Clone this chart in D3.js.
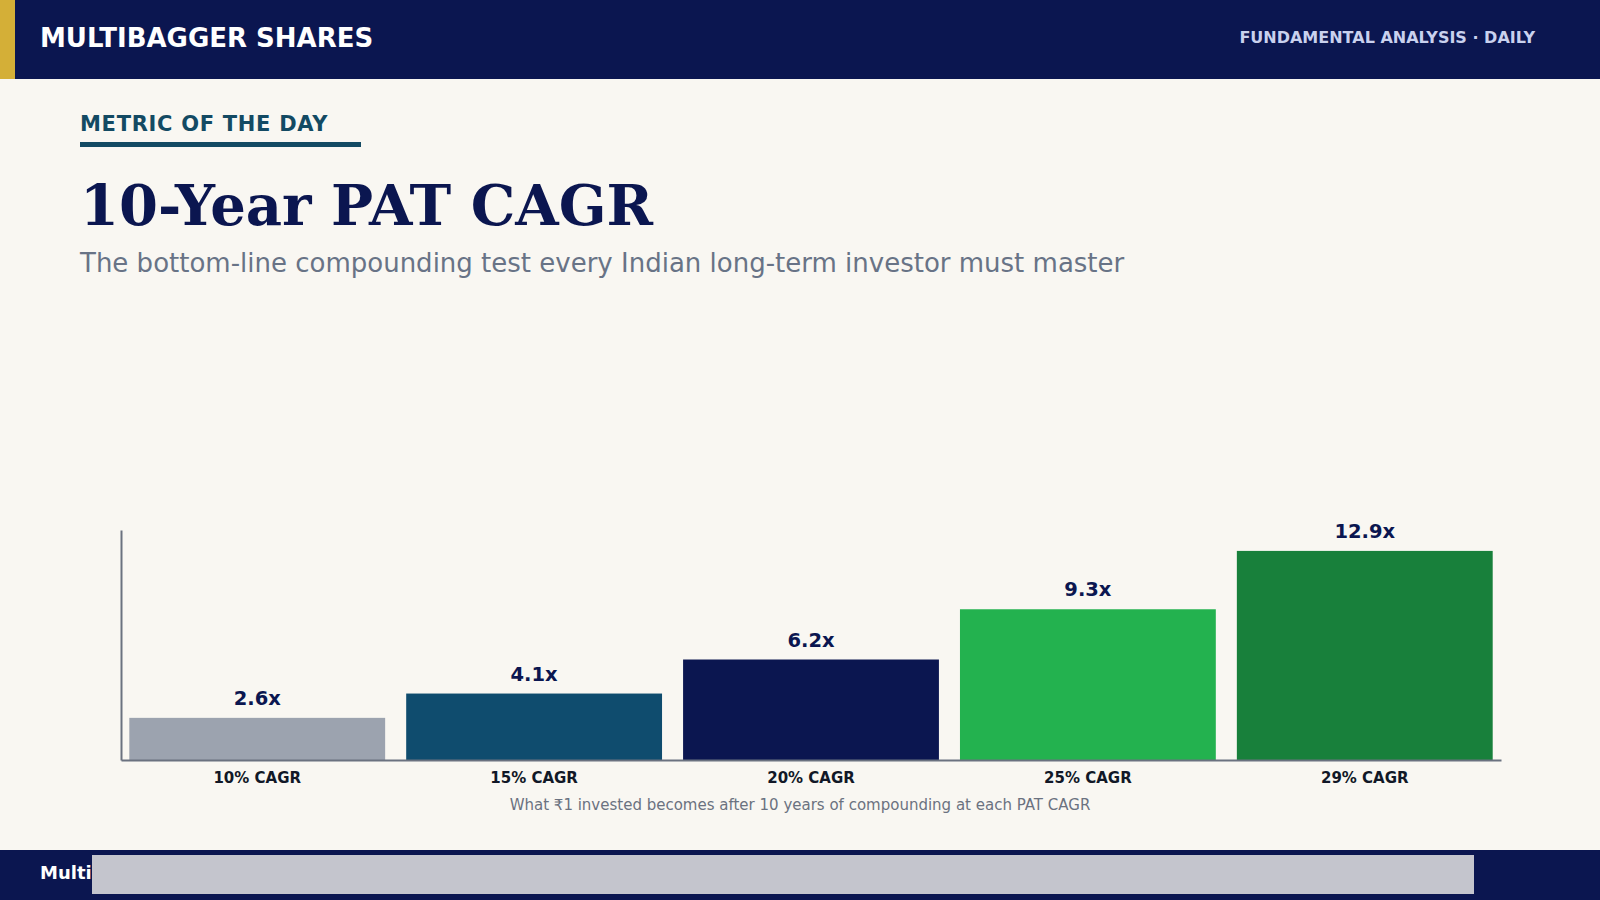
<!DOCTYPE html>
<html>
<head>
<meta charset="utf-8">
<script src="https://cdn.jsdelivr.net/npm/d3@7"></script>
<style>
  html, body { margin: 0; padding: 0; background: #f9f7f2; }
  svg { display: block; font-family: "DejaVu Sans", sans-serif; }
</style>
</head>
<body>
<div id="chart"></div>
<script>
const categories = ["10% CAGR", "15% CAGR", "20% CAGR", "25% CAGR", "29% CAGR"];
const multiples = [2.6, 4.1, 6.2, 9.3, 12.9];
const barColors = ["#9ca3af", "#0f4c6e", "#0b1650", "#23b24f", "#18803b"];

const width = 1600, height = 900;
const navy = "#0b1650";

const svg = d3.select("#chart").append("svg")
  .attr("width", width)
  .attr("height", height);

svg.append("rect").attr("width", width).attr("height", height).attr("fill", "#f9f7f2");

// header band
svg.append("rect").attr("width", width).attr("height", 79).attr("fill", navy);
svg.append("rect").attr("width", 15).attr("height", 79).attr("fill", "#d4af37");
svg.append("text")
  .attr("x", 40).attr("y", 47)
  .attr("fill", "#ffffff")
  .attr("font-size", 26).attr("font-weight", "bold")
  .text("MULTIBAGGER SHARES");
svg.append("text")
  .attr("x", 1535).attr("y", 43)
  .attr("text-anchor", "end")
  .attr("fill", "#c9d1ee")
  .attr("font-size", 16).attr("font-weight", "bold")
  .text("FUNDAMENTAL ANALYSIS · DAILY");

// kicker + titles
svg.append("text")
  .attr("x", 80).attr("y", 131)
  .attr("fill", "#134a63")
  .attr("font-size", 21).attr("font-weight", "bold")
  .attr("letter-spacing", 0.7)
  .text("METRIC OF THE DAY");
svg.append("rect").attr("x", 80).attr("y", 142).attr("width", 281).attr("height", 5).attr("fill", "#134a63");

svg.append("text")
  .attr("x", 80).attr("y", 225)
  .attr("fill", navy)
  .style("font-family", "'DejaVu Serif', serif")
  .attr("font-size", 56).attr("font-weight", "bold")
  .text("10-Year PAT CAGR");
svg.append("text")
  .attr("x", 80).attr("y", 272)
  .attr("fill", "#687386")
  .attr("font-size", 26)
  .text("The bottom-line compounding test every Indian long-term investor must master");

// chart
const margin = { left: 121, right: 99, top: 530, bottom: 140 };
const x = d3.scaleBand()
  .domain(categories)
  .range([margin.left, width - margin.right])
  .paddingInner(0.076)
  .paddingOuter(0.03);
const y = d3.scaleLinear()
  .domain([0, d3.max(multiples) * 1.1])
  .range([height - margin.bottom, margin.top]);

const data = categories.map((c, i) => ({ c, v: multiples[i], color: barColors[i] }));

svg.append("g")
  .selectAll("rect")
  .data(data)
  .join("rect")
  .attr("x", d => x(d.c))
  .attr("y", d => y(d.v))
  .attr("width", x.bandwidth())
  .attr("height", d => y(0) - y(d.v))
  .attr("fill", d => d.color);

svg.append("g")
  .selectAll("text")
  .data(data)
  .join("text")
  .attr("x", d => x(d.c) + x.bandwidth() / 2)
  .attr("y", d => y(d.v) - 13)
  .attr("text-anchor", "middle")
  .attr("fill", navy)
  .attr("font-size", 19.5).attr("font-weight", "bold")
  .text(d => d.v.toFixed(1) + "x");

const gx = svg.append("g")
  .attr("transform", `translate(0,${y(0)})`)
  .call(d3.axisBottom(x).tickSize(0).tickPadding(12));
gx.select(".domain").attr("stroke", "#6b7280").attr("stroke-width", 2);
gx.selectAll(".tick text")
  .attr("fill", "#111827")
  .style("font-family", "'DejaVu Sans', sans-serif")
  .attr("font-size", 15).attr("font-weight", "bold");

const gy = svg.append("g")
  .attr("transform", `translate(${margin.left},0)`)
  .call(d3.axisLeft(y).tickValues([]).tickSize(0));
gy.select(".domain").attr("stroke", "#6b7280").attr("stroke-width", 2);

svg.append("text")
  .attr("x", 800).attr("y", 810)
  .attr("text-anchor", "middle")
  .attr("fill", "#6b7280")
  .attr("font-size", 15)
  .text("What ₹1 invested becomes after 10 years of compounding at each PAT CAGR");

// footer band
svg.append("rect").attr("y", 850).attr("width", width).attr("height", 50).attr("fill", navy);
svg.append("text")
  .attr("x", 40).attr("y", 879)
  .attr("fill", "#ffffff")
  .attr("font-size", 18).attr("font-weight", "bold")
  .text("Multibagger Shares");
svg.append("rect")
  .attr("x", 92).attr("y", 855).attr("width", 1382).attr("height", 39)
  .attr("fill", "#c4c5cd");
</script>
</body>
</html>
